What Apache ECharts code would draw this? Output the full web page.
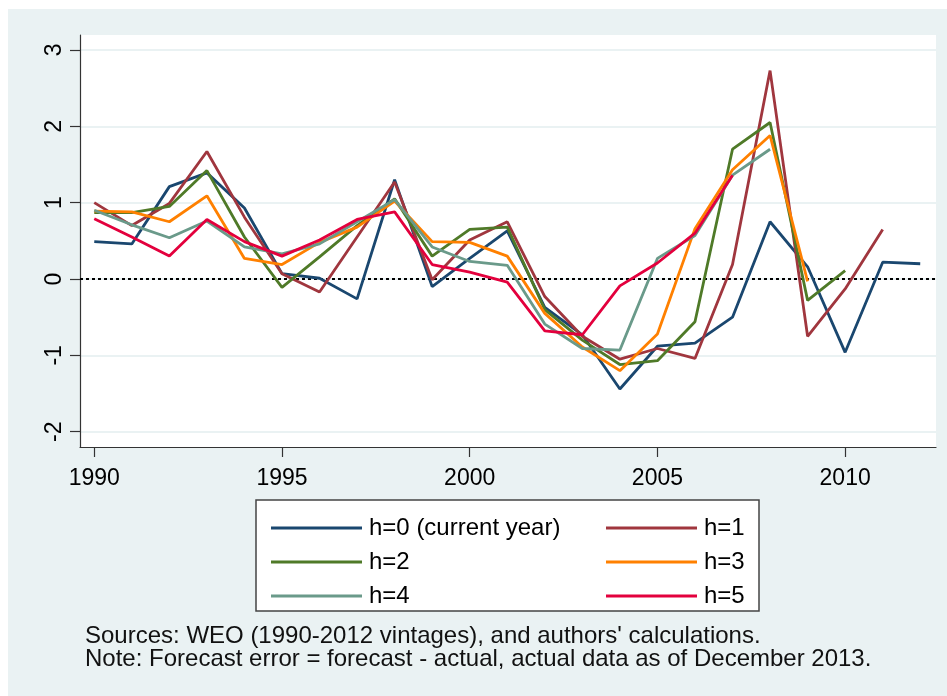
<!DOCTYPE html>
<html>
<head>
<meta charset="utf-8">
<script src="https://cdn.jsdelivr.net/npm/echarts@6/dist/echarts.min.js"></script>
<style>
  html, body { margin: 0; padding: 0; background: #fff; }
  #main { width: 947px; height: 696px; }
</style>
</head>
<body>
<div id="main"></div>
<script>
const years = [1990, 1991, 1992, 1993, 1994, 1995, 1996, 1997, 1998, 1999, 2000, 2001,
  2002, 2003, 2004, 2005, 2006, 2007, 2008, 2009, 2010, 2011, 2012];

const h0 = [0.49, 0.46, 1.21, 1.39, 0.93, 0.07, 0.01, -0.26, 1.30, -0.10, 0.27, 0.63,
  -0.37, -0.73, -1.44, -0.88, -0.84, -0.50, 0.75, 0.16, -0.96, 0.22, 0.20];
const h1 = [1.00, 0.70, 0.99, 1.67, 0.81, 0.07, -0.17, 0.55, 1.27, -0.01, 0.51, 0.75,
  -0.23, -0.75, -1.05, -0.91, -1.04, 0.19, 2.73, -0.75, -0.13, 0.65, null];
const h2 = [0.87, 0.87, 0.95, 1.42, 0.55, -0.11, 0.29, 0.70, 1.05, 0.30, 0.65, 0.68,
  -0.40, -0.80, -1.12, -1.07, -0.56, 1.70, 2.05, -0.28, 0.11, null, null];
const h3 = [0.89, 0.88, 0.75, 1.09, 0.27, 0.19, 0.48, 0.68, 1.02, 0.49, 0.48, 0.30,
  -0.45, -0.89, -1.20, -0.72, 0.66, 1.43, 1.88, -0.03, null, null, null];
const h4 = [0.90, 0.71, 0.54, 0.76, 0.42, 0.33, 0.46, 0.75, 1.04, 0.42, 0.23, 0.18,
  -0.59, -0.91, -0.93, 0.27, 0.57, 1.36, 1.70, null, null, null, null];
const h5 = [0.79, 0.55, 0.30, 0.78, 0.49, 0.30, 0.51, 0.78, 0.88, 0.19, 0.09, -0.04,
  -0.68, -0.73, -0.09, 0.21, 0.60, 1.36, null, null, null, null, null];

const seriesNames = ["h=0 (current year)", "h=1", "h=2", "h=3", "h=4", "h=5"];
const seriesValues = [h0, h1, h2, h3, h4, h5];
const colors = ["#1a476f", "#a0363e", "#4f7a28", "#ff8000", "#6a9a8a", "#e3003d"];

const xTicks = [1990, 1995, 2000, 2005, 2010];
const yTicks = [-2, -1, 0, 1, 2, 3];

const FONT = "Liberation Sans, Arial, sans-serif";

const chart = echarts.init(document.getElementById("main"), null, { renderer: "canvas" });

const series = seriesValues.map((vals, i) => ({
  name: seriesNames[i],
  type: "line",
  symbol: "none",
  connectNulls: false,
  lineStyle: { width: 2.8, color: colors[i] },
  itemStyle: { color: colors[i] },
  data: years.map((y, k) => [y, vals[k]]).filter(d => d[1] !== null),
  z: 3 + i
}));

// dotted zero line
series[0].markLine = {
  silent: true,
  symbol: "none",
  label: { show: false },
  lineStyle: { color: "#000", type: [3, 3], width: 2 },
  data: [{ yAxis: 0 }],
  z: 2
};

const legendBase = {
  orient: "vertical",
  top: 511,
  icon: "rect",
  itemWidth: 91, itemHeight: 3, itemGap: 10,
  textStyle: { fontFamily: FONT, fontSize: 24, lineHeight: 24, color: "#000", padding: [0, 0, 0, 2] },
  selectedMode: false
};

chart.setOption({
  animation: false,
  backgroundColor: "#fff",
  graphic: [
    { type: "rect", z: -10, shape: { x: 8, y: 9, width: 939, height: 687 }, style: { fill: "#eaf2f3" } },
    { type: "rect", z: 0, shape: { x: 256, y: 500, width: 503, height: 111 },
      style: { fill: "#fff", stroke: "#444", lineWidth: 1.5 } },
    { type: "text", left: 85, top: 624, z: 5,
      style: { text: "Sources: WEO (1990-2012 vintages), and authors' calculations.",
        font: "24px " + FONT, fill: "#111" } },
    { type: "text", left: 85, top: 647, z: 5,
      style: { text: "Note: Forecast error = forecast - actual, actual data as of December 2013.",
        font: "24px " + FONT, fill: "#111" } }
  ],
  grid: {
    left: 80, top: 35, width: 856, height: 412,
    show: true, backgroundColor: "#fff", borderWidth: 0
  },
  legend: [
    Object.assign({}, legendBase, { left: 266, data: [seriesNames[0], seriesNames[2], seriesNames[4]] }),
    Object.assign({}, legendBase, { left: 601, data: [seriesNames[1], seriesNames[3], seriesNames[5]] })
  ],
  xAxis: {
    type: "value",
    min: 1989.62, max: 2012.42,
    axisLine: { onZero: false, lineStyle: { color: "#333", width: 1.2 } },
    axisTick: { customValues: xTicks, length: 10, lineStyle: { color: "#333", width: 1.2 } },
    axisLabel: { customValues: xTicks, formatter: v => String(v), fontFamily: FONT, fontSize: 23, color: "#000", margin: 20 },
    splitLine: { show: false }
  },
  yAxis: {
    type: "value",
    min: -2.2, max: 3.196,
    axisLine: { show: true, lineStyle: { color: "#333", width: 1.2 } },
    axisTick: { show: true, customValues: yTicks, length: 10, lineStyle: { color: "#333", width: 1.2 } },
    axisLabel: { customValues: yTicks, rotate: 90, fontFamily: FONT, fontSize: 23, color: "#000", margin: 14 },
    splitLine: { show: true, lineStyle: { color: "#eaf2f3", width: 2 } }
  },
  series: series
});
</script>
</body>
</html>
